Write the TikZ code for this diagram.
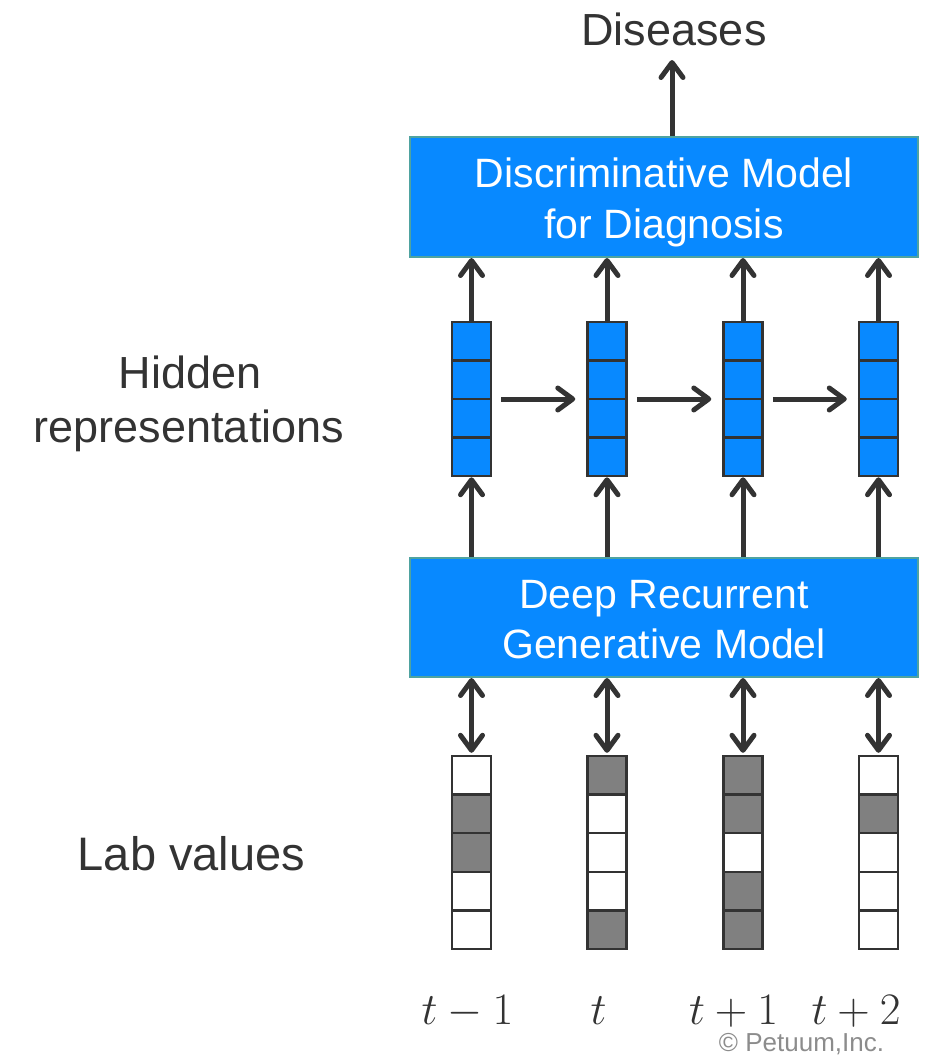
\documentclass[tikz,border=0pt]{standalone}
\usepackage{fix-cm}
\usepackage{fontspec}
\setmainfont{Liberation Sans}
\usetikzlibrary{arrows.meta}
\definecolor{dk}{HTML}{333333}
\definecolor{blu}{HTML}{0889FF}
\definecolor{tealb}{HTML}{4FA3A0}
\definecolor{grayc}{HTML}{808080}
\definecolor{cpy}{HTML}{8C8C8C}
\tikzset{
  model/.style={draw=tealb, line width=2pt, fill=blu, minimum width=508pt, minimum height=120pt, inner sep=0pt},
  boxtxt/.style={text=white, font=\fontsize{41}{49}\selectfont, anchor=base, inner sep=0pt},
  lbl/.style={text=dk, font=\fontsize{45}{54}\selectfont, anchor=base, inner sep=0pt},
  mathlbl/.style={text=dk, font=\fontsize{45}{50}\selectfont, anchor=base, inner sep=0pt},
  hvec/.style={draw=dk, line width=2.5pt, fill=blu, minimum width=39pt, minimum height=154pt, inner sep=0pt},
  divline/.style={draw=dk, line width=2.5pt},
  cell/.style={draw=dk, line width=2.5pt, minimum width=39pt, minimum height=38.6pt, inner sep=0pt},
  tipb/.tip={Straight Barb[length=15pt,width=22pt,line cap=round,line join=round]},
  arr/.style={draw=dk, line width=5pt, -tipb},
  darr/.style={draw=dk, line width=5pt, tipb-tipb}
}
\begin{document}
\begin{tikzpicture}[x=1pt,y=-1pt]
\useasboundingbox (0,0) rectangle (943,1055);

% model boxes
\node[model] (top) at (664,197) {};
\node[boxtxt] (topl1) at (664,187) {Discriminative Model};
\node[boxtxt] (topl2) at (664,238) {for Diagnosis};
\node[model, minimum height=119pt] (gen) at (664,617.5) {};
\node[boxtxt] (genl1) at (664,608) {Deep Recurrent};
\node[boxtxt] (genl2) at (664,658) {Generative Model};

% labels
\node[lbl] (dis) at (674,45) {Diseases};
\node[lbl] (hid1) at (190,388) {Hidden};
\node[lbl] (hid2) at (189,442) {representations};
\node[lbl, font=\fontsize{47}{54}\selectfont] (lab) at (191.5,870) {Lab values};

% hidden vectors
\foreach \i/\x in {1/471.5,2/607,3/743,4/878.5} {
  \node[hvec] (h\i) at (\x,399) {};
  \foreach \yy in {360.5,399,437.5}
    \draw[divline] (h\i.west |- 0,\yy) -- (h\i.east |- 0,\yy);
}

% lab value vectors
\foreach \i/\x/\pat in {1/471.5/{white,grayc,grayc,white,white},
                        2/607/{grayc,white,white,white,grayc},
                        3/743/{grayc,grayc,white,grayc,grayc},
                        4/878.5/{white,grayc,white,white,white}} {
  \node[minimum width=39pt, minimum height=193pt, inner sep=0pt] (l\i) at (\x,852.5) {};
  \foreach \c [count=\k] in \pat
    \node[cell, fill=\c] (l\i-\k) at (\x,{756+38.6*(\k-0.5)}) {};
}

% arrows
\foreach \i in {1,...,4} {
  \draw[arr] (h\i.north) -- (h\i.north |- top.south);
  \draw[arr] (h\i.south |- gen.north) -- (h\i.south);
  \draw[darr, shorten >=3pt] (l\i.north |- gen.south) -- (l\i.north);
}
\foreach \i/\j in {1/2,2/3,3/4}
  \draw[arr, shorten <=9pt, shorten >=11pt] (h\i.east) -- (h\j.west);

\coordinate (dtip) at (672,60);
\draw[arr] (top.north -| dtip) -- (dtip);

% time labels
\node[mathlbl] (t1) at (467.5,1024) {$t-1$};
\node[mathlbl] (t2) at (598.5,1024) {$t$};
\node[mathlbl] (t3) at (733.5,1024) {$t+1$};
\node[mathlbl] (t4) at (856,1024) {$t+2$};

\node[anchor=base, inner sep=0pt, text=cpy, font=\fontsize{26}{30}\selectfont] (copy) at (801.5,1051) {© Petuum,Inc.};
\end{tikzpicture}
\end{document}
